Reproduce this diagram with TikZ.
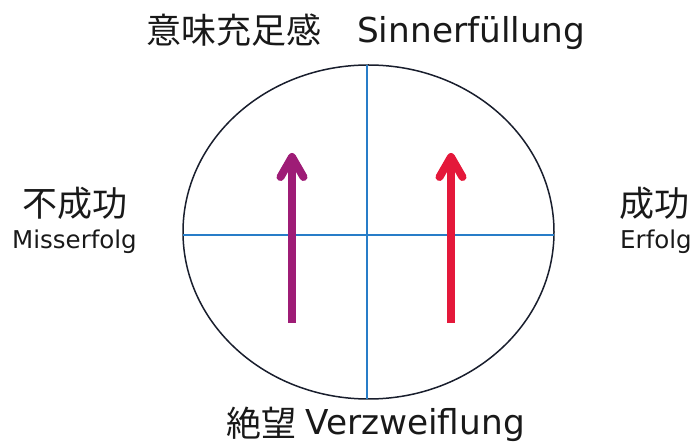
\documentclass[tikz,border=0pt]{standalone}
\usepackage{fontspec}
\setmainfont{DejaVu Sans}
\newfontfamily\cjk{Noto Sans CJK JP}
\definecolor{arrpurple}{RGB}{158,28,118}
\definecolor{arrred}{RGB}{228,24,58}
\definecolor{crossblue}{RGB}{40,125,200}
\definecolor{rimcol}{RGB}{25,30,45}
\tikzset{
  lbl/.style={anchor=base west, inner sep=0pt, text=black!90},
  big/.style={lbl, font=\fontsize{34.3}{37}\selectfont},
  small/.style={lbl, font=\fontsize{24.5}{27}\selectfont},
  bigcjk/.style={lbl, font=\fontsize{35}{38}\selectfont\cjk},
  crossline/.style={crossblue, line width=1.3pt},
  upshaft/.style={line width=7.5pt},
  uphead/.style={line width=8pt, line cap=round, line join=round},
}
\begin{document}
\begin{tikzpicture}[x=1pt,y=-1pt]
\useasboundingbox (0,0) rectangle (694,446);
% ellipse and cross
\coordinate (c) at (368.5,232);
\draw[rimcol, line width=1.5pt] (c) ellipse [x radius=185.5, y radius=167];
\coordinate (vt) at (367,65);
\coordinate (vb) at (367,399);
\coordinate (hl) at (183,235);
\coordinate (hr) at (554,235);
\draw[crossline] (vt) -- (vb);
\draw[crossline] (hl) -- (hr);
% arrows
\draw[arrpurple, upshaft] (292,323) -- (292,158);
\draw[arrpurple, uphead] (280.5,177) -- (292,157) -- (303.5,177);
\draw[arrred, upshaft] (451,323) -- (451,158);
\draw[arrred, uphead] (439.5,177) -- (451,157) -- (462.5,177);
% labels
\node[bigcjk] (tcjk) at (146,44) {意味充足感};
\node[big] (tde) at (357,43) {Sinnerfüllung};
\node[bigcjk] (lcjk) at (22,217) {不成功};
\node[small] (lde) at (12,249) {Misserfolg};
\node[bigcjk] (rcjk) at (619,217) {成功};
\node[small] (rde) at (620,249) {Erfolg};
\node[bigcjk] (bcjk) at (226,436) {絶望};
\node[big] (bde) at (305,435) {Verzweiflung};
\end{tikzpicture}
\end{document}
